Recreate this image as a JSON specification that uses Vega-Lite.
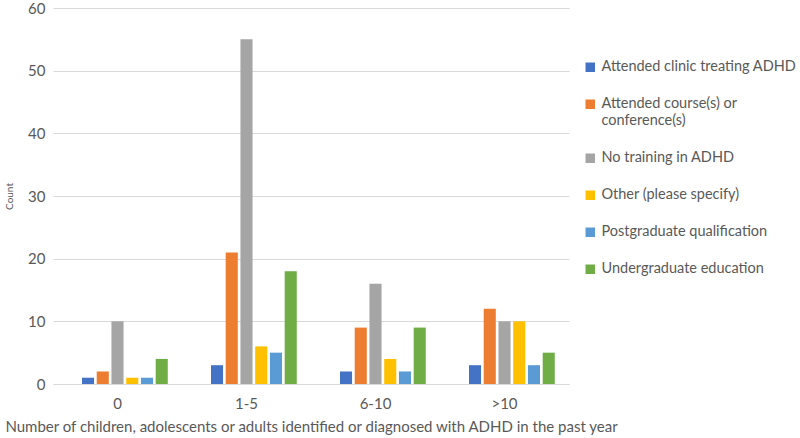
{
  "$schema": "https://vega.github.io/schema/vega-lite/v6.json",
  "width": 516,
  "height": 376,
  "autosize": {"type": "none"},
  "padding": {"left": 53, "top": 8, "right": 231, "bottom": 54},
  "background": "white",
  "config": {
    "font": "Lato",
    "view": {"stroke": null}
  },
  "data": {
    "values": [
      {"group": "0", "training": "Attended clinic treating ADHD", "count": 1},
      {"group": "0", "training": "Attended course(s) or conference(s)", "count": 2},
      {"group": "0", "training": "No training in ADHD", "count": 10},
      {"group": "0", "training": "Other (please specify)", "count": 1},
      {"group": "0", "training": "Postgraduate qualification", "count": 1},
      {"group": "0", "training": "Undergraduate education", "count": 4},
      {"group": "1-5", "training": "Attended clinic treating ADHD", "count": 3},
      {"group": "1-5", "training": "Attended course(s) or conference(s)", "count": 21},
      {"group": "1-5", "training": "No training in ADHD", "count": 55},
      {"group": "1-5", "training": "Other (please specify)", "count": 6},
      {"group": "1-5", "training": "Postgraduate qualification", "count": 5},
      {"group": "1-5", "training": "Undergraduate education", "count": 18},
      {"group": "6-10", "training": "Attended clinic treating ADHD", "count": 2},
      {"group": "6-10", "training": "Attended course(s) or conference(s)", "count": 9},
      {"group": "6-10", "training": "No training in ADHD", "count": 16},
      {"group": "6-10", "training": "Other (please specify)", "count": 4},
      {"group": "6-10", "training": "Postgraduate qualification", "count": 2},
      {"group": "6-10", "training": "Undergraduate education", "count": 9},
      {"group": ">10", "training": "Attended clinic treating ADHD", "count": 3},
      {"group": ">10", "training": "Attended course(s) or conference(s)", "count": 12},
      {"group": ">10", "training": "No training in ADHD", "count": 10},
      {"group": ">10", "training": "Other (please specify)", "count": 10},
      {"group": ">10", "training": "Postgraduate qualification", "count": 3},
      {"group": ">10", "training": "Undergraduate education", "count": 5}
    ]
  },
  "mark": {"type": "bar"},
  "encoding": {
    "x": {
      "field": "group",
      "type": "nominal",
      "sort": ["0", "1-5", "6-10", ">10"],
      "scale": {"paddingInner": 0.2, "paddingOuter": 0.1},
      "axis": {
        "title": "Number of children, adolescents or adults identified or diagnosed with ADHD in the past year",
        "titleFontSize": 15,
        "titleFontWeight": "normal",
        "titleColor": "#595959",
        "titlePadding": 8,
        "labelAngle": 0,
        "labelFontSize": 15,
        "labelColor": "#595959",
        "labelPadding": 12,
        "ticks": false,
        "domainColor": "#d9d9d9",
        "domainWidth": 1
      }
    },
    "xOffset": {
      "field": "training",
      "type": "nominal",
      "scale": {
        "domain": ["(blank)", "Attended clinic treating ADHD", "Attended course(s) or conference(s)", "No training in ADHD", "Other (please specify)", "Postgraduate qualification", "Undergraduate education"],
        "paddingInner": 0.18,
        "paddingOuter": 0.09
      }
    },
    "y": {
      "field": "count",
      "type": "quantitative",
      "scale": {"domain": [0, 60]},
      "axis": {
        "title": "Count",
        "titleFontSize": 10,
        "titleFontWeight": "normal",
        "titleColor": "#595959",
        "titlePadding": 13,
        "values": [0, 10, 20, 30, 40, 50, 60],
        "labelFontSize": 15,
        "labelColor": "#595959",
        "labelPadding": 8,
        "ticks": false,
        "domain": false,
        "gridColor": "#d9d9d9",
        "gridWidth": 1
      }
    },
    "color": {
      "field": "training",
      "type": "nominal",
      "scale": {
        "domain": ["Attended clinic treating ADHD", "Attended course(s) or conference(s)", "No training in ADHD", "Other (please specify)", "Postgraduate qualification", "Undergraduate education"],
        "range": ["#4472C4", "#ED7D31", "#A5A5A5", "#FFC000", "#5B9BD5", "#70AD47"]
      },
      "legend": {
        "title": null,
        "orient": "none",
        "legendX": 530,
        "legendY": 52,
        "symbolType": "square",
        "symbolSize": 90,
        "symbolStrokeWidth": 0,
        "labelFontSize": 14.5,
        "labelColor": "#595959",
        "labelLimit": 260,
        "rowPadding": 22,
        "labelExpr": "datum.label == 'Attended course(s) or conference(s)' ? ['Attended course(s) or', 'conference(s)'] : datum.label"
      }
    }
  }
}
